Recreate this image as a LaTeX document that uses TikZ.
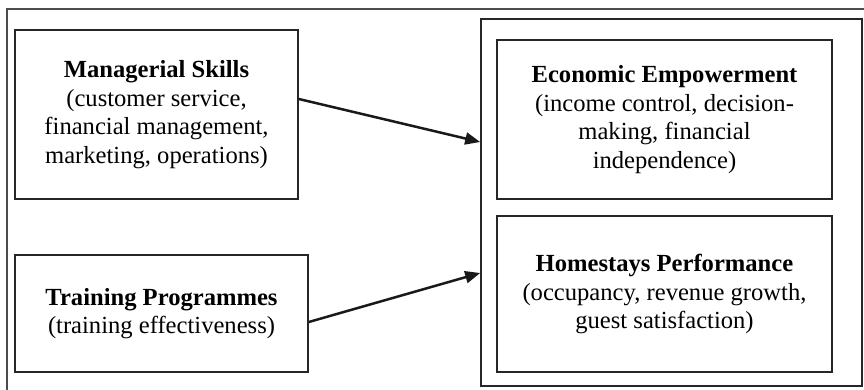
\documentclass[tikz,border=0pt]{standalone}
\usepackage{fontspec}
\setmainfont{Liberation Serif}
\usetikzlibrary{arrows.meta}
\begin{document}
\begin{tikzpicture}[x=1pt,y=-1pt,
  box/.style={draw=black!85,line width=1.6pt,inner sep=0pt,align=center,
    font=\fontsize{24.6}{28.5}\selectfont},
  frame/.style={draw=black!70,line width=1.2pt},
  arr/.style={line width=2.5pt,draw=black!90,-{Triangle[length=15pt,width=12pt]}}]
\useasboundingbox (0,0) rectangle (864,390);
\draw[frame] (7,390) -- (7,9) -- (864,9);
\node[box,minimum width=283pt,minimum height=169pt] (ms) at (156.5,114.5)
  {\textbf{Managerial Skills}\\(customer service,\\financial management,\\marketing, operations)};
\node[box,minimum width=293pt,minimum height=117pt] (tp) at (161.5,313.5)
  {\textbf{Training Programmes}\\(training effectiveness)};
\node[draw=black!85,line width=1.6pt,minimum width=381pt,minimum height=367pt,inner sep=0pt] (ct) at (671.5,202.5) {};
\node[box,minimum width=335pt,minimum height=159pt] (ee) at (664.5,119.5)
  {\textbf{Economic Empowerment}\\(income control, decision-\\making, financial\\independence)};
\node[box,minimum width=335pt,minimum height=156pt] (hp) at (664.5,294)
  {\textbf{Homestays Performance}\\(occupancy, revenue growth,\\guest satisfaction)};
\coordinate (s1) at ([yshift=15.5pt]ms.east);
\coordinate (e1) at ([yshift=60.5pt]ct.west);
\coordinate (s2) at ([yshift=-8.5pt]tp.east);
\coordinate (e2) at ([yshift=-70.5pt]ct.west);
\draw[arr] (s1) -- (e1);
\draw[arr] (s2) -- (e2);
\end{tikzpicture}
\end{document}
